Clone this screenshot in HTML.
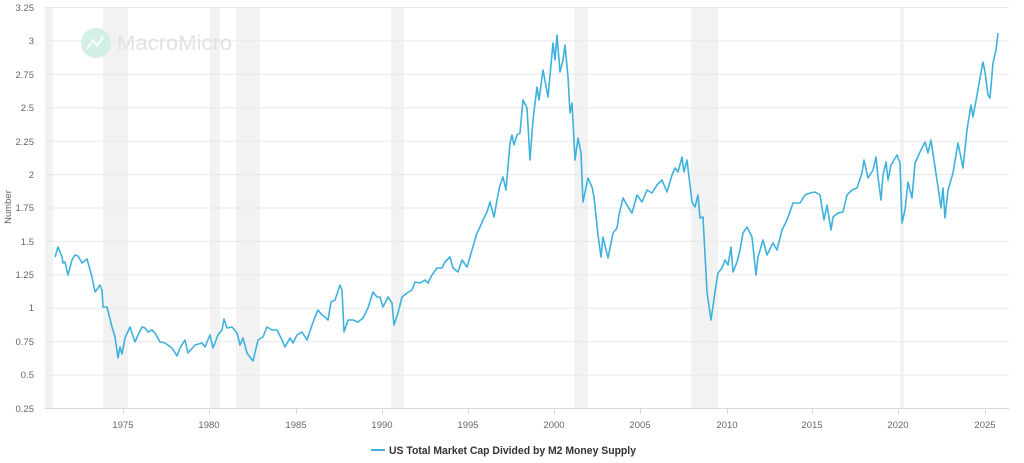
<!DOCTYPE html>
<html><head><meta charset="utf-8"><style>
html,body{margin:0;padding:0;background:#fff;}
body{width:1024px;height:458px;overflow:hidden;font-family:"Liberation Sans",sans-serif;}
</style></head><body>
<svg width="1024" height="458" viewBox="0 0 1024 458" xmlns="http://www.w3.org/2000/svg">
<g fill="#f2f2f2">
<rect x="45" y="7" width="8" height="401"/>
<rect x="103" y="7" width="25" height="401"/>
<rect x="210" y="7" width="10" height="401"/>
<rect x="236" y="7" width="24" height="401"/>
<rect x="391" y="7" width="13" height="401"/>
<rect x="574" y="7" width="14" height="401"/>
<rect x="691" y="7" width="27" height="401"/>
<rect x="900" y="7" width="4" height="401"/>
</g>
<g stroke="#e8e8e8" stroke-width="1">
<line x1="45" x2="1009" y1="7.5" y2="7.5"/><line x1="45" x2="1009" y1="40.9" y2="40.9"/>
<line x1="45" x2="1009" y1="74.3" y2="74.3"/><line x1="45" x2="1009" y1="107.8" y2="107.8"/>
<line x1="45" x2="1009" y1="141.2" y2="141.2"/><line x1="45" x2="1009" y1="174.6" y2="174.6"/>
<line x1="45" x2="1009" y1="208" y2="208"/><line x1="45" x2="1009" y1="241.4" y2="241.4"/>
<line x1="45" x2="1009" y1="274.9" y2="274.9"/><line x1="45" x2="1009" y1="308.3" y2="308.3"/>
<line x1="45" x2="1009" y1="341.7" y2="341.7"/><line x1="45" x2="1009" y1="375.1" y2="375.1"/>
</g>
<line x1="45" x2="1009" y1="408.5" y2="408.5" stroke="#d8d8d8"/>
<g stroke="#d8d8d8"><line x1="123.5" x2="123.5" y1="408" y2="414"/><line x1="209.5" x2="209.5" y1="408" y2="414"/><line x1="296.5" x2="296.5" y1="408" y2="414"/><line x1="382.5" x2="382.5" y1="408" y2="414"/><line x1="468.5" x2="468.5" y1="408" y2="414"/><line x1="554.5" x2="554.5" y1="408" y2="414"/><line x1="640.5" x2="640.5" y1="408" y2="414"/><line x1="727.5" x2="727.5" y1="408" y2="414"/><line x1="812.5" x2="812.5" y1="408" y2="414"/><line x1="898.5" x2="898.5" y1="408" y2="414"/><line x1="985.5" x2="985.5" y1="408" y2="414"/></g>
<g font-size="9.5" fill="#666" text-anchor="end">
<text x="34" y="11">3.25</text><text x="34" y="44">3</text><text x="34" y="78">2.75</text><text x="34" y="111">2.5</text><text x="34" y="145">2.25</text><text x="34" y="178">2</text><text x="34" y="211">1.75</text><text x="34" y="245">1.5</text><text x="34" y="278">1.25</text><text x="34" y="311">1</text><text x="34" y="345">0.75</text><text x="34" y="378">0.5</text><text x="34" y="412">0.25</text>
</g>
<g font-size="9.5" fill="#666" text-anchor="middle">
<text x="123" y="428">1975</text><text x="209" y="428">1980</text><text x="296" y="428">1985</text><text x="382" y="428">1990</text><text x="468" y="428">1995</text><text x="554" y="428">2000</text><text x="640" y="428">2005</text><text x="727" y="428">2010</text><text x="812" y="428">2015</text><text x="898" y="428">2020</text><text x="985" y="428">2025</text>
</g>
<text transform="translate(11,207) rotate(-90)" font-size="9.5" fill="#666" text-anchor="middle">Number</text>
<circle cx="96" cy="43" r="15" fill="#d3f0e8"/>
<path d="M87 49 L93 40 L97 46 L103 37" stroke="#fff" stroke-width="2" fill="none"/>
<text x="117" y="50" font-size="21" fill="#e2e2e2" textLength="115" lengthAdjust="spacingAndGlyphs">MacroMicro</text>
<polyline fill="none" stroke="#3eb2dd" stroke-width="1.6" stroke-linejoin="round" points="55,257 58,247 62,257 63,263 65,262 68,275 72,260 75,255 78,256 82,263 87,259 92,277 95,292 98,288 100,285 102,290 103,307 107,307 112,327 115,337 118,358 120,347 122,354 125,338 130,327 135,342 138,335 142,327 145,328 148,332 152,330 155,333 160,342 165,343 172,348 177,356 180,348 185,340 188,353 195,345 202,343 205,347 210,335 213,348 218,335 222,330 224,319 227,328 232,327 237,333 240,345 243,338 247,353 250,357 253,361 258,340 263,337 267,327 272,330 277,330 282,340 285,347 290,338 293,343 297,335 302,332 307,340 312,325 315,317 318,310 322,315 325,317 328,320 331,302 335,300 340,285 342,290 344,332 348,320 353,320 358,322 363,318 368,308 373,292 377,297 380,297 383,307 388,297 392,303 394,325 398,313 402,297 407,293 412,290 415,282 420,283 425,280 428,283 432,275 437,268 442,268 445,262 450,257 453,268 458,272 462,260 467,267 472,250 477,233 480,227 483,220 487,212 490,202 494,217 497,200 500,185 503,177 506,190 510,143 512,135 514,145 517,135 520,133 523,100 527,108 530,160 533,120 537,87 539,100 543,70 548,97 553,43 555,60 557,35 560,72 563,60 565,45 568,77 570,113 572,103 575,160 578,138 581,153 583,202 588,178 592,187 594,197 598,235 601,257 603,237 608,258 613,233 617,228 619,215 623,198 628,207 632,213 637,195 642,202 647,190 652,193 657,185 662,180 667,192 672,175 675,168 678,172 682,157 684,172 687,160 692,202 695,207 698,195 700,218 703,217 707,292 711,320 715,292 718,273 722,268 725,260 728,265 731,247 733,272 737,262 740,250 743,233 747,227 752,237 756,275 758,257 763,240 767,255 773,243 777,250 782,230 787,220 793,203 800,203 805,195 810,193 815,192 820,195 824,220 827,205 831,230 833,217 838,213 843,212 847,195 852,190 857,188 862,173 864,160 868,178 873,170 876,157 878,177 881,200 883,175 886,162 888,180 891,165 897,155 900,163 902,223 905,210 908,182 912,198 915,163 920,152 925,142 928,153 931,140 935,167 938,187 941,208 943,188 945,218 948,190 953,173 958,143 963,168 967,130 971,105 973,117 977,95 980,78 983,62 985,72 988,95 990,98 993,63 996,50 998,33"/>
<line x1="371" x2="385" y1="450" y2="450" stroke="#3eb2dd" stroke-width="2"/>
<text x="389" y="454" font-size="11" font-weight="bold" fill="#333" textLength="247" lengthAdjust="spacingAndGlyphs">US Total Market Cap Divided by M2 Money Supply</text>
</svg>
</body></html>
